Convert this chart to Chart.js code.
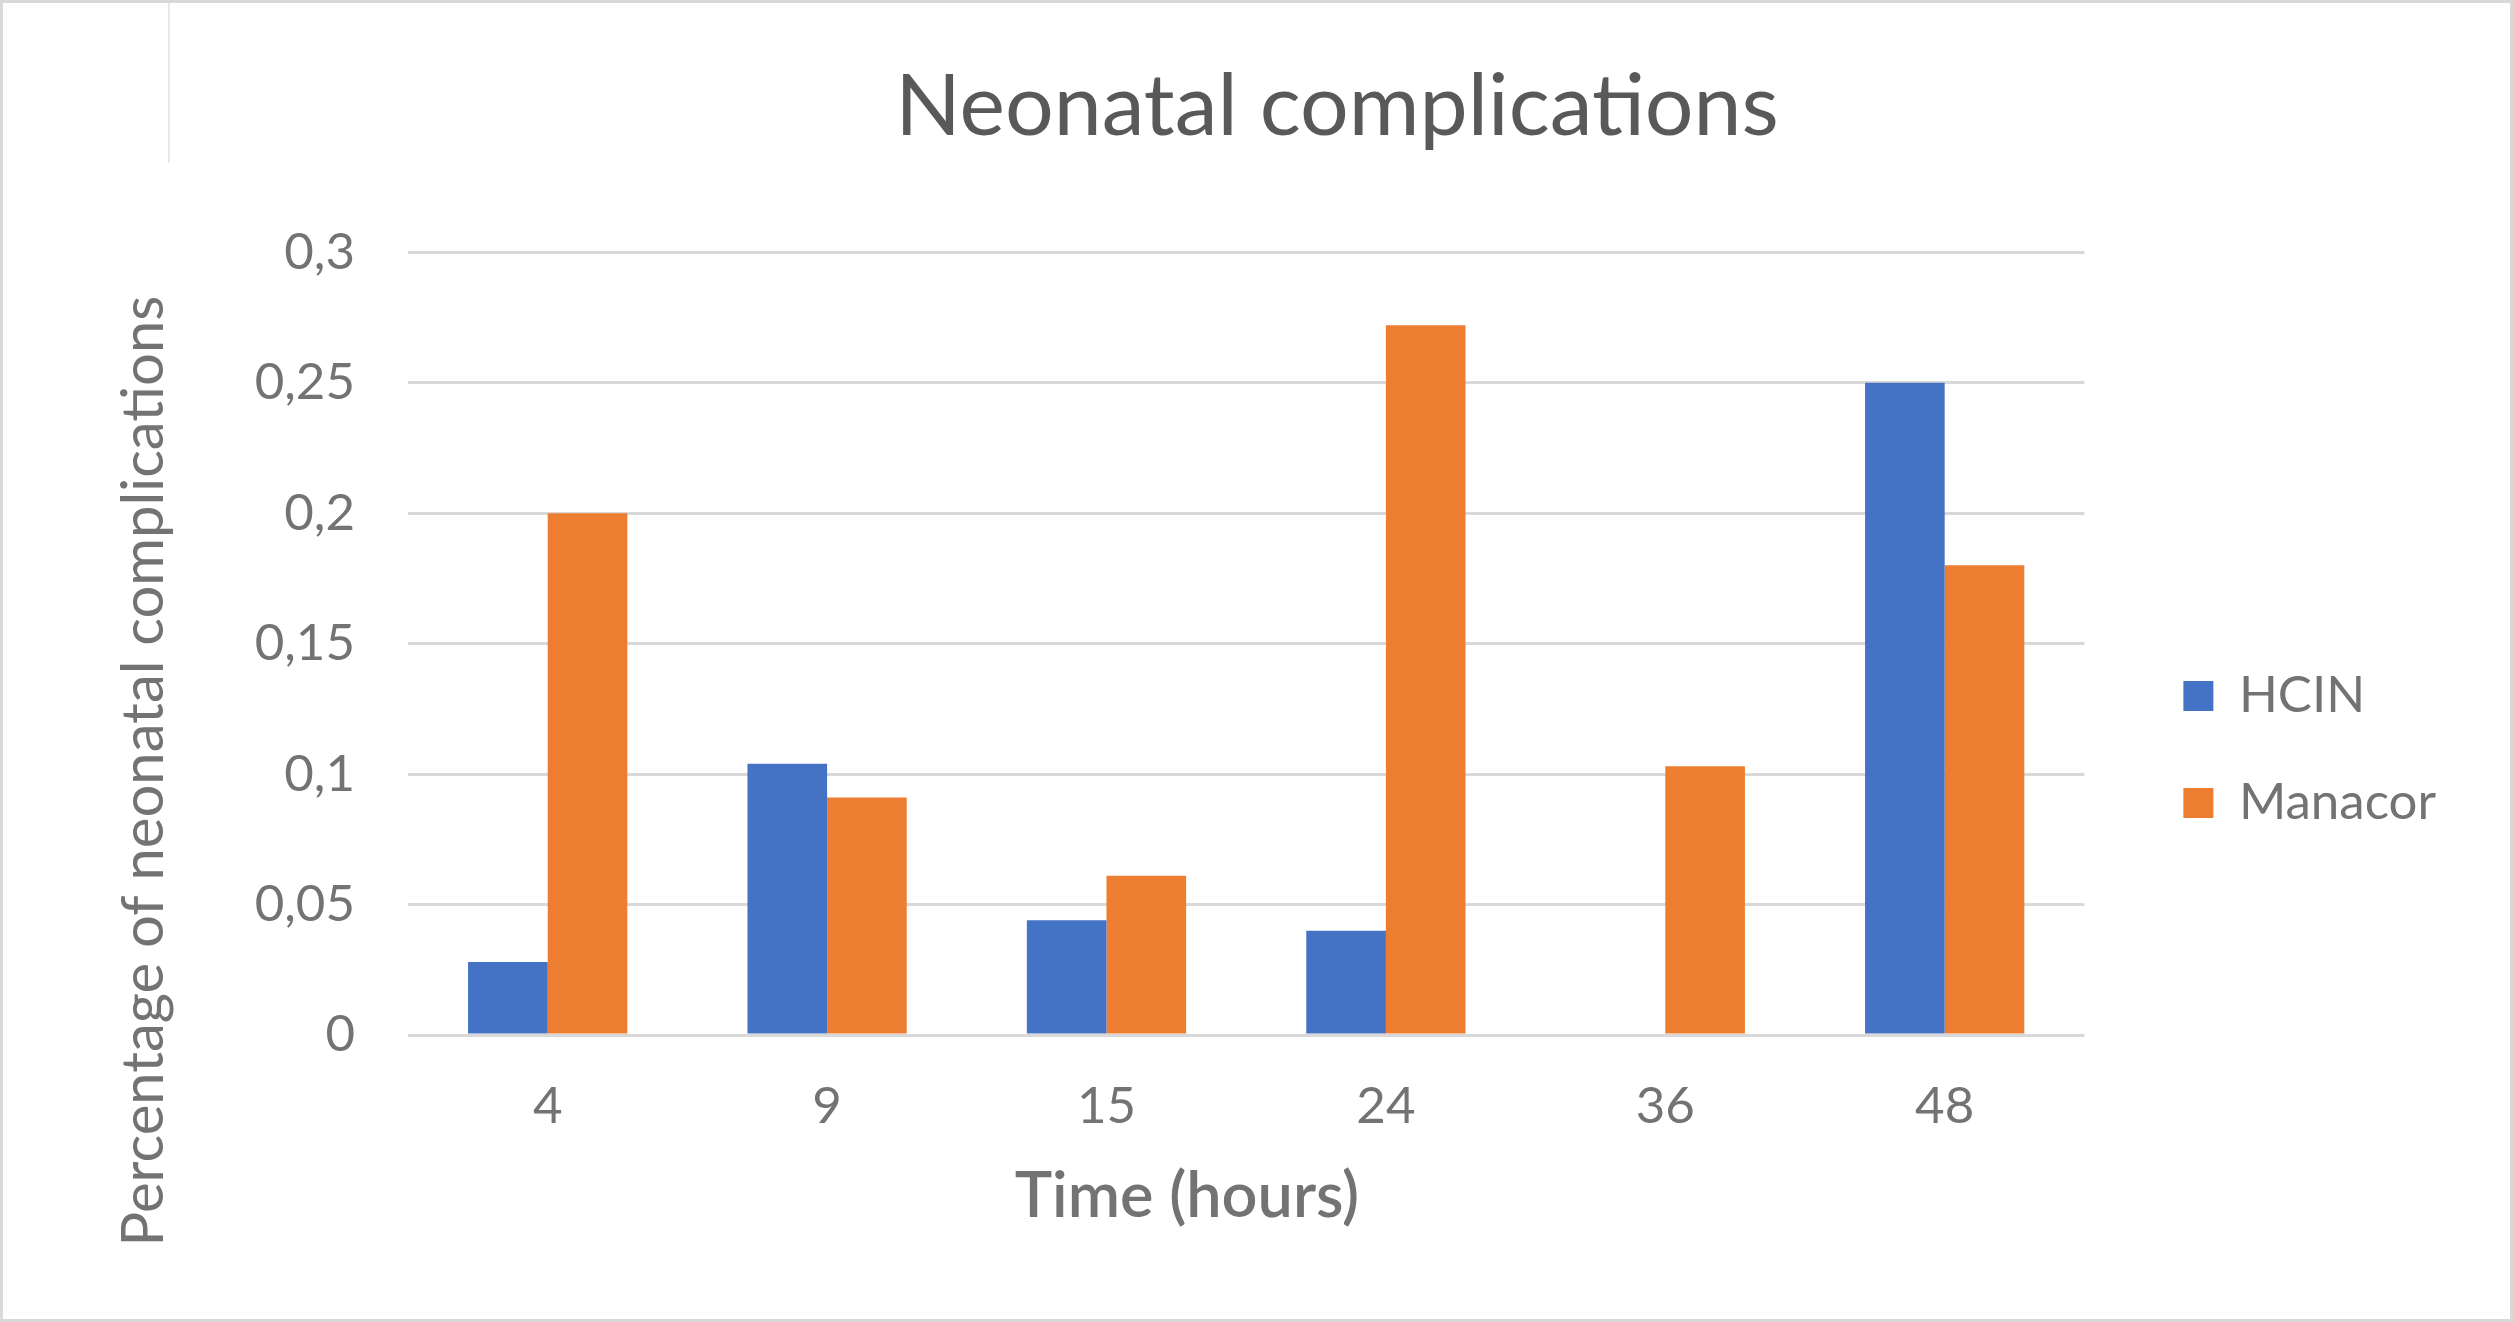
<!DOCTYPE html>
<html>
<head>
<meta charset="utf-8">
<title>Neonatal complications</title>
<script src="https://cdn.jsdelivr.net/npm/chart.js@4.4.1/dist/chart.umd.min.js"></script>
<style>
  html, body { margin: 0; padding: 0; background: #fff; }
  .frame { position: relative; width: 2513px; height: 1322px; box-sizing: border-box; border: 3px solid #d9d9d9; background: #fff; }
  .frame canvas { display: block; }
  .stray-line { position: absolute; left: 165px; top: 0; width: 2px; height: 160px; background: #e8e8e8; }
</style>
</head>
<body>
<div class="frame">
  <div class="stray-line"></div>
  <canvas id="chart" width="2507" height="1316"></canvas>
</div>
<script>
const hours = ['4', '9', '15', '24', '36', '48'];
const hcinValues = [0.028, 0.104, 0.044, 0.040, 0, 0.25];
const manacorValues = [0.2, 0.091, 0.061, 0.272, 0.103, 0.18];
const yTickLabels = ['0', '0,05', '0,1', '0,15', '0,2', '0,25', '0,3'];

const FONT = 'Lato, "Open Sans", sans-serif';
const TITLE_COLOR = '#595959';
const TEXT = '#737373';

// axis titles drawn by hand: in the original neither one is centred on the plot
const axisTitlesPlugin = {
  id: 'axisTitles',
  afterDraw(chart) {
    const { ctx, chartArea } = chart;
    ctx.save();
    ctx.fillStyle = TEXT;
    ctx.textAlign = 'center';
    ctx.textBaseline = 'middle';

    ctx.font = '600 63px ' + FONT;
    ctx.fillText('Time (hours)', chartArea.left + 779, chartArea.bottom + 162);

    ctx.translate(chartArea.left - 264, chartArea.bottom - 264);
    ctx.rotate(-Math.PI / 2);
    ctx.font = '58px ' + FONT;
    ctx.fillText('Percentage of neonatal complications', 0, 0);
    ctx.restore();
  }
};

new Chart(document.getElementById('chart'), {
  type: 'bar',
  data: {
    labels: hours,
    datasets: [
      { label: 'HCIN', data: hcinValues, backgroundColor: '#4472C4', borderWidth: 0 },
      { label: 'Manacor', data: manacorValues, backgroundColor: '#ED7D31', borderWidth: 0 }
    ]
  },
  options: {
    responsive: false,
    animation: false,
    devicePixelRatio: 1,
    layout: { padding: { left: 225, right: 64, top: 0, bottom: 86 } },
    datasets: { bar: { categoryPercentage: 0.57, barPercentage: 1 } },
    scales: {
      x: {
        grid: { display: false, drawTicks: false },
        border: { display: false },
        ticks: { color: TEXT, font: { family: FONT, size: 51 }, padding: 41 },
        afterFit(scale) { scale.height = 198; }
      },
      y: {
        min: 0,
        max: 0.3,
        ticks: {
          stepSize: 0.05,
          color: TEXT,
          font: { family: FONT, size: 51 },
          padding: 53,
          callback: (v, i) => yTickLabels[i]
        },
        grid: { color: '#d9d9d9', lineWidth: 3, drawTicks: false },
        border: { display: false },
        afterFit(scale) { scale.width = 180; }
      },
      gap: {
        type: 'linear',
        position: 'right',
        grid: { display: false },
        border: { display: false },
        ticks: { display: false },
        afterFit(scale) { scale.width = 43; }
      }
    },
    plugins: {
      title: {
        display: true,
        text: 'Neonatal complications',
        color: TITLE_COLOR,
        font: { family: FONT, size: 86, weight: 'normal' },
        padding: { top: 53, bottom: 93 }
      },
      legend: {
        position: 'right',
        labels: {
          boxWidth: 30,
          boxHeight: 30,
          padding: 56,
          color: TEXT,
          font: { family: FONT, size: 51 }
        },
        // empty title only pushes the two items down to where they sit in the original
        title: {
          display: true,
          text: ' ',
          color: 'rgba(0,0,0,0)',
          font: { size: 10 },
          padding: { top: 251, bottom: 0 }
        }
      },
      tooltip: { enabled: false }
    }
  },
  plugins: [axisTitlesPlugin]
});
</script>
</body>
</html>
